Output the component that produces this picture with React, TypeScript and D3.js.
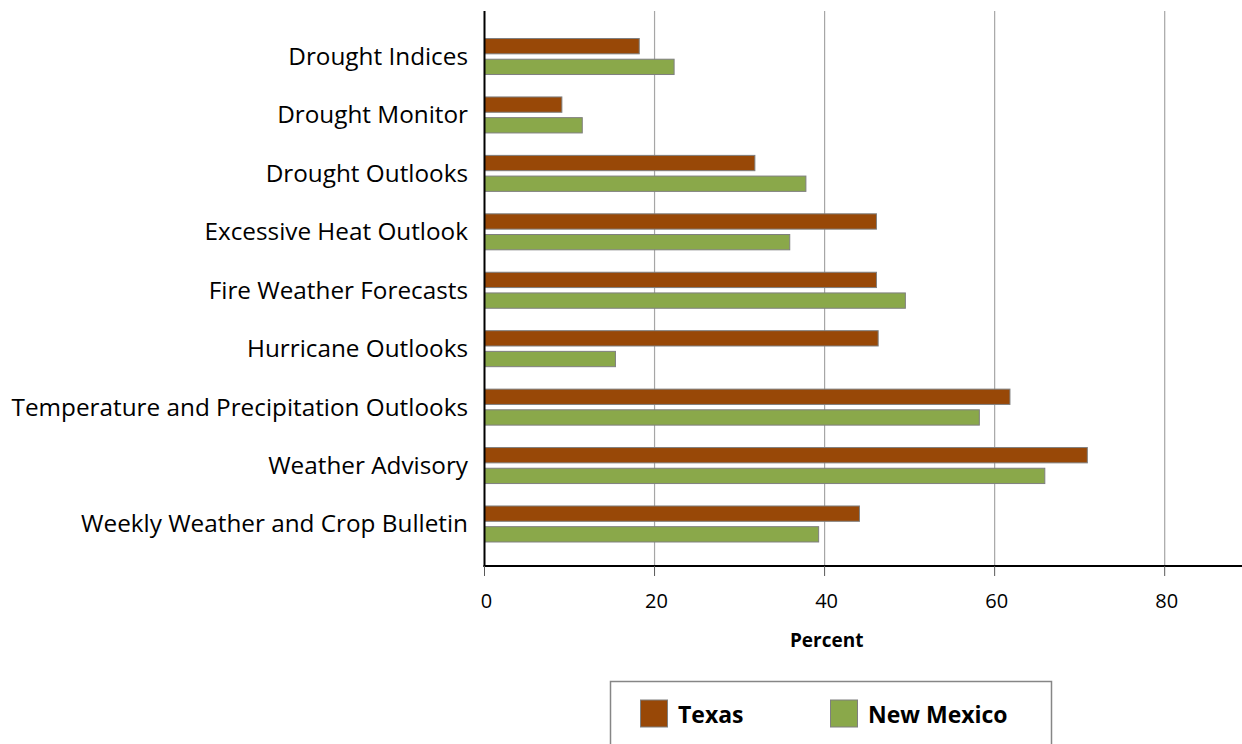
import React, {useMemo} from "react";
import * as d3 from "d3";

const categories = [
    "Drought Indices",
    "Drought Monitor",
    "Drought Outlooks",
    "Excessive Heat Outlook",
    "Fire Weather Forecasts",
    "Hurricane Outlooks",
    "Temperature and Precipitation Outlooks ",
    "Weather Advisory",
    "Weekly Weather and Crop Bulletin",
];

const seriesNames = ["Texas", "New Mexico"];
const texas = [18.2, 9.1, 31.8, 46.1, 46.1, 46.3, 61.8, 70.9, 44.1];
const newMexico = [22.3, 11.5, 37.8, 35.9, 49.5, 15.4, 58.2, 65.9, 39.3];
const xTicks = [0, 20, 40, 60, 80];

const COLORS = ["#984807", "#8aa84a"];
const FONT = "'Open Sans', sans-serif";

const WIDTH = 1242;
const HEIGHT = 744;

const App = () => {
    const left = 484.5;
    const plotTop = 11;
    const plotBottom = 566;

    const xScale = useMemo(() => {
        return d3.scaleLinear().domain([0, 80]).range([left, 1164.7]);
    }, []);

    const yScale = useMemo(() => {
        return d3
            .scaleBand()
            .domain(categories)
            .range([27.3, 553.2])
            .paddingInner(0.384)
            .paddingOuter(0.192);
    }, []);

    const subScale = useMemo(() => {
        return d3
            .scaleBand()
            .domain(seriesNames)
            .range([0, yScale.bandwidth()])
            .paddingInner(0.26);
    }, [yScale]);

    const values = [texas, newMexico];

    // bars
    const bars = categories.map((cat, i) => {
        const y0 = yScale(cat) || 0;
        return (
            <g key={cat}>
                {seriesNames.map((s, j) => (
                    <rect
                        key={s}
                        x={xScale(0)}
                        y={y0 + (subScale(s) || 0)}
                        width={xScale(values[j][i]) - xScale(0)}
                        height={subScale.bandwidth()}
                        fill={COLORS[j]}
                        stroke="#7f7f7f"
                        strokeWidth={1}
                    />
                ))}
                <text
                    x={468}
                    y={y0 + yScale.bandwidth() / 2 - 1}
                    textAnchor="end"
                    dominantBaseline="central"
                    fontSize={24.3}
                    fontFamily={FONT}
                    fill="#000"
                >
                    {cat}
                </text>
            </g>
        );
    });

    return (
        <svg
            width={WIDTH}
            height={HEIGHT}
            style={{position: "absolute", left: 0, top: 0, background: "#fff"}}
        >
            {/* gridlines */}
            {xTicks.slice(1).map((t) => (
                <line
                    key={"g" + t}
                    x1={xScale(t)}
                    x2={xScale(t)}
                    y1={plotTop}
                    y2={plotBottom}
                    stroke="#a6a6a6"
                    strokeWidth={1.2}
                />
            ))}

            {bars}

            {/* axes */}
            <line x1={left} x2={left} y1={plotTop} y2={plotBottom + 1} stroke="#000" strokeWidth={2} />
            <line x1={left - 1} x2={WIDTH} y1={plotBottom} y2={plotBottom} stroke="#000" strokeWidth={2} />
            {xTicks.map((t) => (
                <g key={"t" + t}>
                    <line
                        x1={xScale(t)}
                        x2={xScale(t)}
                        y1={plotBottom}
                        y2={plotBottom + 10}
                        stroke="#595959"
                        strokeWidth={1}
                    />
                    <text
                        x={xScale(t) + 2}
                        y={600}
                        textAnchor="middle"
                        dominantBaseline="central"
                        fontSize={20}
                        fontFamily={FONT}
                        fill="#000"
                    >
                        {t}
                    </text>
                </g>
            ))}
            <text
                x={826.7}
                y={647}
                textAnchor="middle"
                fontSize={19}
                fontWeight="bold"
                fontFamily={FONT}
                fill="#000"
            >
                Percent
            </text>

            {/* legend */}
            <rect x={610.5} y={681.5} width={441} height={80} fill="#fff" stroke="#868686" strokeWidth={1.5} />
            {seriesNames.map((s, j) => {
                const lx = j === 0 ? 640.5 : 830.5;
                return (
                    <g key={"l" + s}>
                        <rect x={lx} y={700} width={27} height={27} fill={COLORS[j]} stroke="#7f7f7f" strokeWidth={1} />
                        <text
                            x={lx + 37.5}
                            y={722.5}
                            fontSize={23}
                            fontWeight="bold"
                            fontFamily={FONT}
                            fill="#000"
                        >
                            {s}
                        </text>
                    </g>
                );
            })}
        </svg>
    );
};

export default App;
